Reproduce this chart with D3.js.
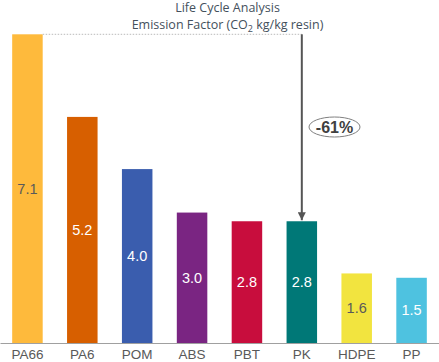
<!DOCTYPE html>
<html><head><meta charset="utf-8">
<script src="https://cdn.jsdelivr.net/npm/d3@7"></script>
<style>body{margin:0;background:#fff}svg{display:block}</style>
</head><body>
<script>
const categories = ["PA66","PA6","POM","ABS","PBT","PK","HDPE","PP"];
const values = [7.1,5.2,4.0,3.0,2.8,2.8,1.6,1.5];
const valueLabels = ["7.1","5.2","4.0","3.0","2.8","2.8","1.6","1.5"];
const colors = ["#FEBA3C","#D75F00","#3A5DAE","#7A2582","#C80D3D","#007877","#F2E43F","#4EC2E0"];
const labelColors = ["#595959","#fff","#fff","#fff","#fff","#fff","#595959","#fff"];
const reductionLabel = "-61%";

const W = 439, H = 362;
const svg = d3.select("body").append("svg").attr("width", W).attr("height", H);

const x = d3.scaleBand().domain(categories).range([0, 439]).paddingInner(0.444).paddingOuter(0.222);
const y = d3.scaleLinear().domain([0, 7.1]).range([343, 34.3]);

// title
const title = svg.append("text").attr("text-anchor","middle").attr("fill","#44505C")
  .style("font-family","'Open Sans', sans-serif").style("font-size","12.5px");
title.append("tspan").attr("x", 227.5).attr("y", 12).text("Life Cycle Analysis");
const t2 = title.append("tspan").attr("x", 227.5).attr("y", 29);
t2.append("tspan").text("Emission Factor (CO");
t2.append("tspan").attr("dy", 3).style("font-size","9px").text("2");
t2.append("tspan").attr("dy", -3).text(" kg/kg resin)");

// bars
svg.selectAll("rect.bar").data(categories).join("rect").attr("class","bar")
  .attr("x", d => x(d)).attr("width", x.bandwidth())
  .attr("y", (d,i) => y(values[i])).attr("height", (d,i) => y(0) - y(values[i]))
  .attr("fill", (d,i) => colors[i]);

// value labels
svg.selectAll("text.val").data(categories).join("text").attr("class","val")
  .attr("x", d => x(d) + x.bandwidth()/2)
  .attr("y", (d,i) => (y(values[i]) + y(0))/2)
  .attr("dy","0.35em").attr("text-anchor","middle")
  .attr("fill", (d,i) => labelColors[i])
  .style("font-family","'Liberation Sans', Arial, sans-serif").style("font-size","14.5px")
  .text((d,i) => valueLabels[i]);

// axis
const axis = svg.append("g").attr("transform", `translate(0,${y(0)})`)
  .call(d3.axisBottom(x).tickSize(0).tickPadding(6));
axis.select(".domain").attr("stroke","#A0A0A0").attr("stroke-width",1.2);
axis.selectAll("text").attr("fill","#595959")
  .style("font-family","'Liberation Sans', Arial, sans-serif").style("font-size","13.5px");

// dotted reference line
const topY = y(values[0]);
const arrowX = x("PK") + x.bandwidth()/2;
svg.append("line").attr("x1", x("PA66") + x.bandwidth()).attr("x2", arrowX)
  .attr("y1", topY).attr("y2", topY)
  .attr("stroke","#BBBBBB").attr("stroke-width",1).attr("stroke-dasharray","1.5,1.5");

// arrow
svg.append("defs").append("marker").attr("id","ah").attr("viewBox","0 0 10 10")
  .attr("refX",10).attr("refY",5).attr("markerWidth",4).attr("markerHeight",4)
  .attr("orient","auto").append("path").attr("d","M0,0L10,5L0,10z").attr("fill","#555");
svg.append("line").attr("x1", arrowX).attr("x2", arrowX)
  .attr("y1", topY).attr("y2", y(values[5]) - 1)
  .attr("stroke","#555").attr("stroke-width",2).attr("marker-end","url(#ah)");

// ellipse label
svg.append("ellipse").attr("cx", 334.5).attr("cy", 127).attr("rx", 25.5).attr("ry", 10)
  .attr("fill","#fff").attr("stroke","#808080").attr("stroke-width",1);
svg.append("text").attr("x", 334.5).attr("y", 127).attr("dy","0.36em").attr("text-anchor","middle")
  .attr("fill","#404040").style("font-family","'Liberation Sans', Arial, sans-serif")
  .style("font-weight","bold").style("font-size","16px").text(reductionLabel);
</script>
</body></html>
